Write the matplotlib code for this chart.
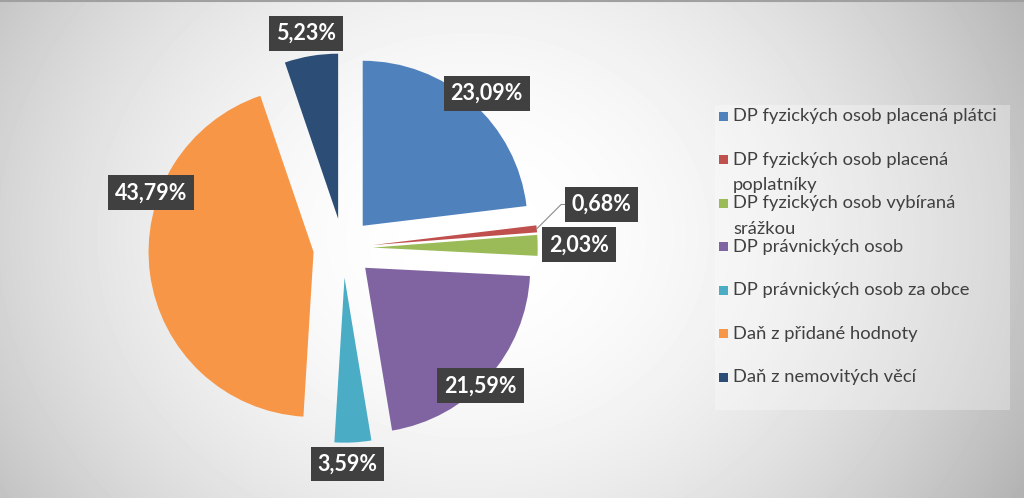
import numpy as np
import matplotlib
matplotlib.use('Agg')
import matplotlib.pyplot as plt
from matplotlib.patches import Rectangle

# ---- data ----
categories = [
    "DP fyzických osob placená plátci",
    "DP fyzických osob placená poplatníky",
    "DP fyzických osob vybíraná srážkou",
    "DP právnických osob",
    "DP právnických osob za obce",
    "Daň z přidané hodnoty",
    "Daň z nemovitých věcí",
]
legend_labels = [
    "DP fyzických osob placená plátci",
    "DP fyzických osob placená\npoplatníky",
    "DP fyzických osob vybíraná\nsrážkou",
    "DP právnických osob",
    "DP právnických osob za obce",
    "Daň z přidané hodnoty",
    "Daň z nemovitých věcí",
]
shares = [23.09, 0.68, 2.03, 21.59, 3.59, 43.79, 5.23]

# ---- style ----
colors = ['#4F81BD', '#C0504D', '#9BBB59', '#8064A2', '#4BACC6', '#F79646', '#2C4D75']
explode = [0.18, 0.18, 0.18, 0.18, 0.18, 0.18, 0.18]
label_dist = [1.10, 1.41, 1.25, 1.00, 1.13, 1.05, 1.14]
label_shift = [1.5, -4.4, 0.0, 3.9, 2.0, 27.6, -0.4]   # clockwise degrees

W, H = 1024, 498
R, cx, cy = 165.0, 343.0, 248.0
FONT = 'Lato'

fig = plt.figure(figsize=(W / 100, H / 100), dpi=100)

# background gradient
bg = fig.add_axes([0, 0, 1, 1])
yy, xx = np.mgrid[0:H, 0:W]
d = np.hypot((xx - 470) / 1.0, (yy - 235) / 0.85)
img = np.clip(1 - 0.29 * (d / 620) ** 2, 0.68, 1)
bg.imshow(img, cmap='gray', vmin=0, vmax=1, extent=[0, W, H, 0],
          aspect='auto', interpolation='bilinear')
bg.set_xlim(0, W)
bg.set_ylim(H, 0)
bg.axis('off')
bg.plot([0, W], [0.5, 0.5], color='#a0a0a0', lw=1.5)

# legend (manual, Excel-like even pitch)
bg.add_patch(Rectangle((715, 105), 295, 305, facecolor='white', alpha=0.3,
                       edgecolor='none'))
y0, pitch = 116, 43.5
for i, (lab, col) in enumerate(zip(legend_labels, colors)):
    y = y0 + i * pitch
    bg.add_patch(Rectangle((719, y - 4.5), 9, 9, facecolor=col, edgecolor='none'))
    bg.text(733, y - 8, lab, ha='left', va='top', fontsize=13.2, family=FONT,
            color='#404040', linespacing=1.75)

# pie
ax = fig.add_axes([0, 0, 1, 1])
ax.patch.set_alpha(0)
wedges, _ = ax.pie(shares, colors=colors, startangle=90, counterclock=False,
                   explode=explode, radius=1, wedgeprops=dict(linewidth=0))
ax.set_xlim(-cx / R, (W - cx) / R)
ax.set_ylim(-(H - cy) / R, cy / R)
ax.set_aspect('auto')
ax.axis('off')

for i, w in enumerate(wedges):
    mid = (w.theta1 + w.theta2) / 2.0
    ang = np.deg2rad(mid - label_shift[i])
    c = np.array(w.center)
    pos = c + label_dist[i] * np.array([np.cos(ang), np.sin(ang)])
    txt = f"{shares[i]:.2f}".replace('.', ',') + '%'
    bbox = dict(boxstyle='square,pad=0.32', facecolor='#404040', edgecolor='none')
    kw = dict(ha='center', va='center', fontsize=15.5, fontweight='bold',
              family=FONT, color='white', bbox=bbox)
    if i == 1:
        tip = c + 1.0 * np.array([np.cos(np.deg2rad(mid)), np.sin(np.deg2rad(mid))])
        ax.annotate(txt, xy=tip, xytext=pos,
                    arrowprops=dict(arrowstyle='-', color='#8c8c8c', lw=0.8,
                                    shrinkA=0, shrinkB=0,
                                    connectionstyle='angle,angleA=0,angleB=45,rad=0'),
                    **kw)
    else:
        ax.text(pos[0], pos[1], txt, **kw)

fig.savefig('out.png', dpi=100)
